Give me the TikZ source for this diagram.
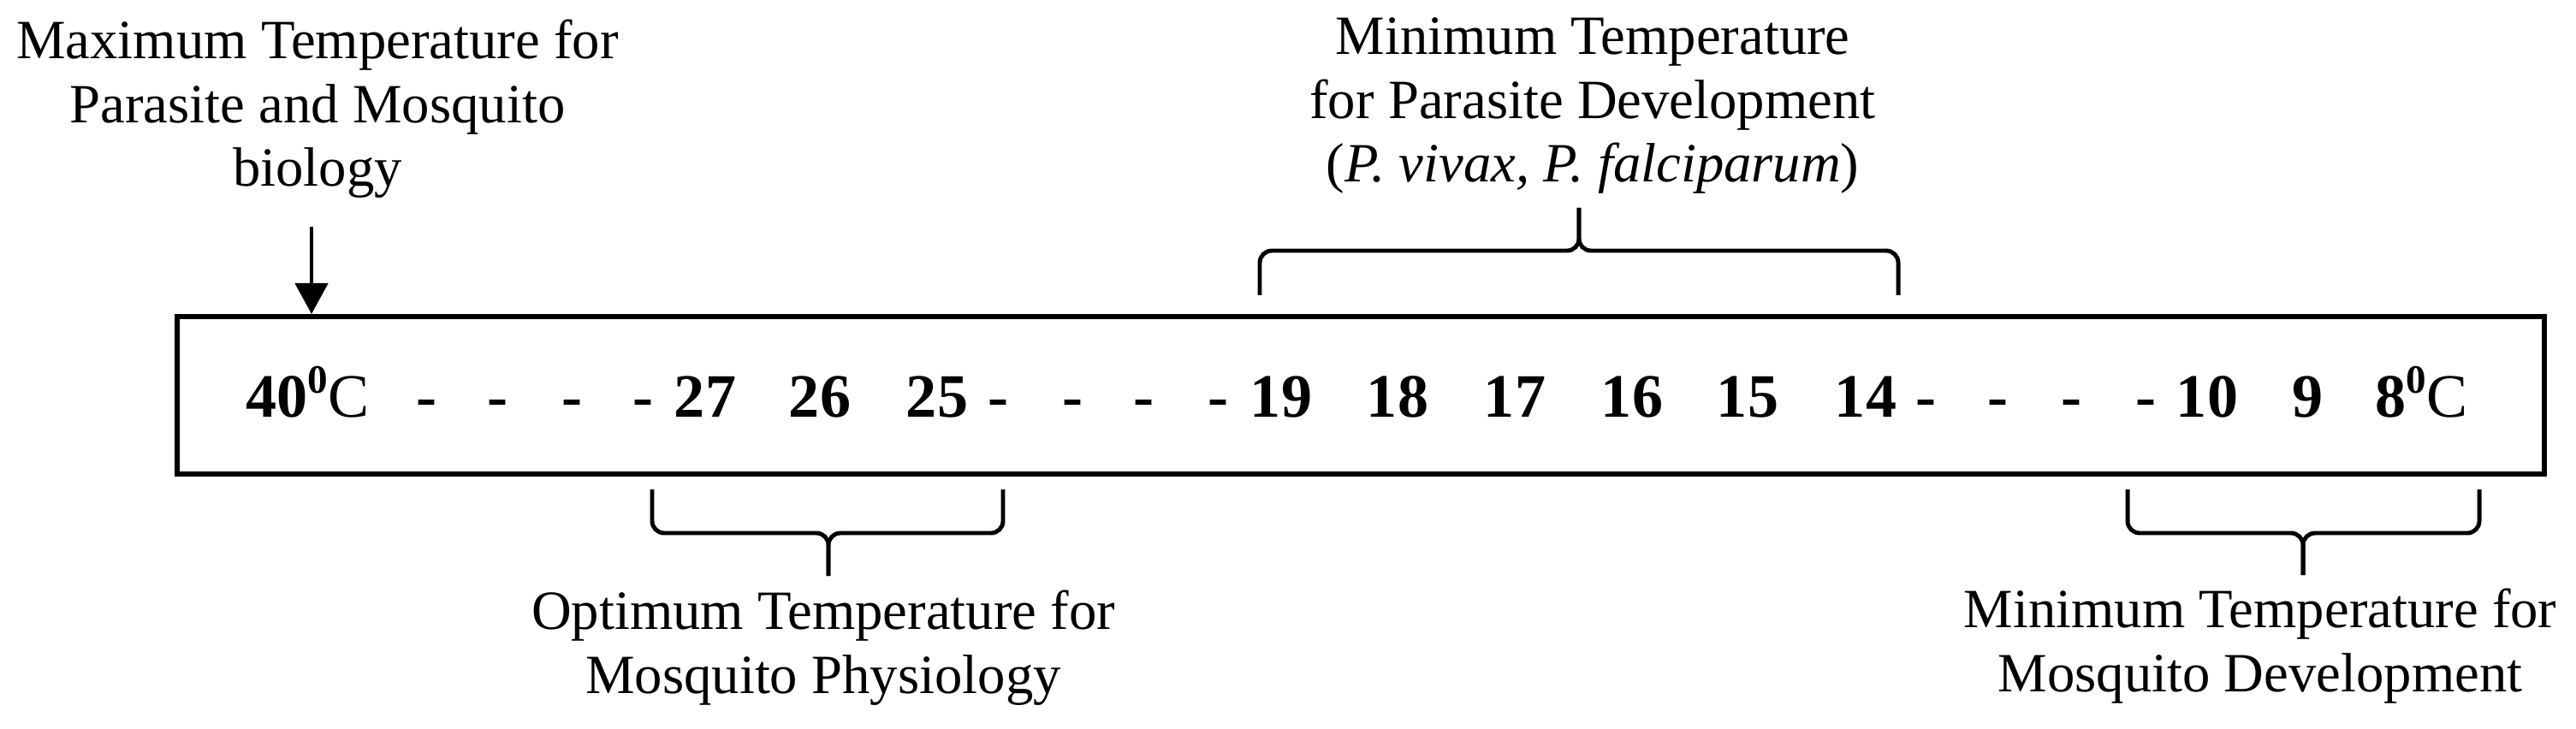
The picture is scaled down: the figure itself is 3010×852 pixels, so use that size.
\documentclass[tikz,border=0pt]{standalone}
\usepackage{fontspec}
\setmainfont{Liberation Serif}
\usetikzlibrary{arrows.meta}
\newcommand{\degsup}{\raisebox{0.27cm}{\fontsize{13.4}{14}\selectfont\bfseries 0}}

\begin{document}
\begin{tikzpicture}[
  x=0.01cm, y=-0.01cm,
  label/.style={align=center, inner sep=0pt, anchor=base, font=\fontsize{18.4}{21.3}\selectfont},
  temp/.style={inner sep=0pt, anchor=base, font=\fontsize{20.5}{24}\selectfont\bfseries},
  bracket/.style={line width=1.4pt, rounded corners=0.14cm},
  frame/.style={draw, line width=1.7pt, minimum width=27.64cm, minimum height=1.84cm, inner sep=0pt},
  pointer/.style={line width=1.4pt, -{Triangle[width=0.38cm,length=0.36cm]}}
]
\useasboundingbox (0,0) rectangle (3010,852);

\node[frame] (box) at (1590,462) {};

% temperature scale
\node[temp, anchor=base west] (t40) at (287,487) {40\degsup\mdseries C};
\foreach \t/\x in {27/824, 26/958, 25/1095, 19/1497, 18/1633, 17/1770, 16/1907, 15/2042, 14/2180, 10/2579, 9/2696}
  \node[temp] (t\t) at (\x,487) {\t};
\node[temp, anchor=base west] (t8) at (2775,487) {8\degsup\mdseries C};
\foreach \x in {498, 581, 668, 751, 1166, 1253, 1336, 1423, 2250, 2334, 2420, 2507}
  \node[temp] (d\x) at (\x,487) {-};

% labels (anchored at the baseline of their last line)
\node[label] (maxlbl) at (371,218) {Maximum Temperature for\\Parasite and Mosquito\\biology};
\node[label] (parlbl) at (1861,213) {Minimum Temperature\\for Parasite Development\\(\textit{P. vivax, P. falciparum})};
\node[label] (optlbl) at (962,810) {Optimum Temperature for\\Mosquito Physiology};
\node[label] (mosqlbl) at (2641,808) {Minimum Temperature for\\Mosquito Development};

\coordinate (arrtop) at (364,265);
\draw[pointer] (arrtop) -- (arrtop |- box.north);

% braces
\draw[bracket] (1472,345) |- (1845,293) -- (1845,243);
\draw[bracket] (2218,345) |- (1845,293) -- (1845,243);
\draw[bracket] (762,572) |- (968,623) -- (968,673);
\draw[bracket] (1172,572) |- (968,623) -- (968,673);
\draw[bracket] (2486,572) |- (2691,623) -- (2691,672);
\draw[bracket] (2897,572) |- (2691,623) -- (2691,672);
\end{tikzpicture}
\end{document}
